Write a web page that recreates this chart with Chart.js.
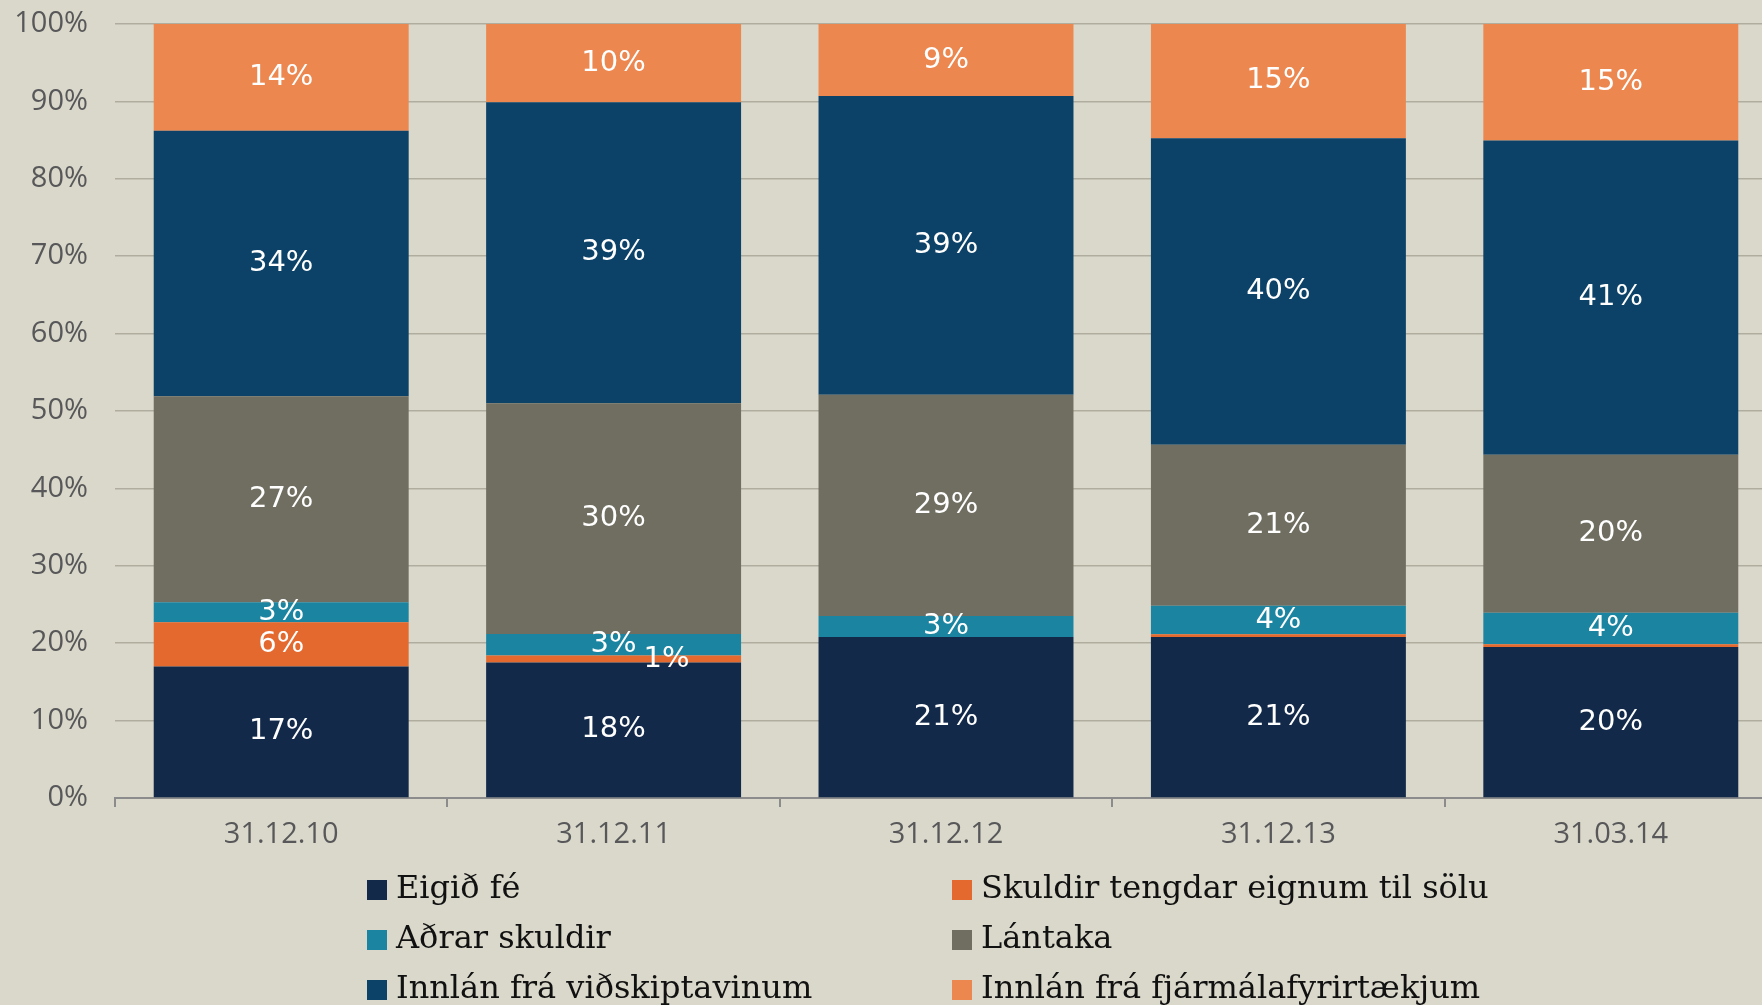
<!DOCTYPE html>
<html>
<head>
<meta charset="utf-8">
<script src="https://cdn.jsdelivr.net/npm/chart.js@4.4.1/dist/chart.umd.min.js"></script>
<style>
  html, body { margin: 0; padding: 0; background: #dad8ca; overflow: hidden; }
  #wrap { width: 1780px; height: 1005px; }
</style>
</head>
<body>
<div id="wrap"><canvas id="chart"></canvas></div>
<script>
// dagsetningar
const categories = ['31.12.10', '31.12.11', '31.12.12', '31.12.13', '31.03.14'];

// hlutfall af heild, %
const eigidFe        = [17.0, 17.5, 20.8, 20.8, 19.5];
const skuldirTengdar = [5.7, 0.9, 0, 0.35, 0.35];
const adrarSkuldir   = [2.6, 2.8, 2.7, 3.7, 4.1];
const lantaka        = [26.6, 29.8, 28.6, 20.8, 20.4];
const innlanVidsk    = [34.3, 38.9, 38.6, 39.6, 40.6];
const innlanFjarm    = [13.8, 10.1, 9.3, 14.8, 15.1];

Chart.defaults.font.family = '"Open Sans", sans-serif';

// gildi inni í súlunum
const valueLabels = {
  id: 'valueLabels',
  afterDatasetsDraw(chart) {
    const ctx = chart.ctx;
    ctx.save();
    ctx.font = '29px "DejaVu Sans"';
    ctx.fillStyle = '#ffffff';
    ctx.textAlign = 'center';
    ctx.textBaseline = 'middle';
    chart.data.datasets.forEach((ds, i) => {
      chart.getDatasetMeta(i).data.forEach((bar, j) => {
        const v = ds.data[j];
        if (v < 0.5) return;
        let x = bar.x;
        const y = (bar.y + bar.base) / 2;
        if (v < 1.5) x += 53; // of þunnt, fært til hliðar
        ctx.fillText(Math.round(v) + '%', x, y);
      });
    });
    ctx.restore();
  }
};

// skýringar í tveimur dálkum
const gridLegend = {
  id: 'gridLegend',
  afterDraw(chart) {
    const ctx = chart.ctx;
    const area = chart.chartArea;
    const cols = [area.left + 252, area.left + 837];
    ctx.save();
    ctx.font = '32px "DejaVu Serif"';
    ctx.textBaseline = 'middle';
    ctx.textAlign = 'left';
    chart.data.datasets.forEach((ds, i) => {
      const x = cols[i % 2];
      const y = area.bottom + 92 + Math.floor(i / 2) * 50;
      ctx.fillStyle = ds.backgroundColor;
      ctx.fillRect(x, y - 10, 20, 20);
      ctx.fillStyle = '#111111';
      ctx.fillText(ds.label, x + 29, y);
    });
    ctx.restore();
  }
};

const ctx = document.getElementById('chart');
new Chart(ctx, {
  type: 'bar',
  data: {
    labels: categories,
    datasets: [
      { label: 'Eigið fé', data: eigidFe, backgroundColor: '#12294a' },
      { label: 'Skuldir tengdar eignum til sölu', data: skuldirTengdar, backgroundColor: '#e4692f' },
      { label: 'Aðrar skuldir', data: adrarSkuldir, backgroundColor: '#1b84a0' },
      { label: 'Lántaka', data: lantaka, backgroundColor: '#706e61' },
      { label: 'Innlán frá viðskiptavinum', data: innlanVidsk, backgroundColor: '#0c4168' },
      { label: 'Innlán frá fjármálafyrirtækjum', data: innlanFjarm, backgroundColor: '#ec874f' }
    ]
  },
  options: {
    responsive: true,
    maintainAspectRatio: false,
    animation: false,
    devicePixelRatio: 1,
    layout: { padding: { top: 24, right: 3, bottom: 147, left: 0 } },
    datasets: {
      bar: { barPercentage: 0.767, categoryPercentage: 1.0, borderWidth: 0 }
    },
    plugins: {
      legend: { display: false },
      tooltip: { enabled: false }
    },
    scales: {
      x: {
        stacked: true,
        grid: { display: true, drawOnChartArea: false, drawTicks: true, tickLength: 9, color: '#8c8c8c', lineWidth: 2, offset: true },
        border: { display: true, color: '#8c8c8c', width: 2 },
        ticks: { color: '#58585a', font: { size: 29 }, padding: 10, maxRotation: 0 },
        afterFit(s) { s.height = 60; }
      },
      y: {
        stacked: true,
        min: 0,
        max: 100,
        ticks: { stepSize: 10, callback: v => v + '%', color: '#58585a', font: { size: 29 }, padding: 0 },
        grid: { color: '#b0ad9f', lineWidth: 1.5, drawTicks: true, tickLength: 27, tickColor: 'rgba(0,0,0,0)' },
        border: { display: false },
        afterFit(s) { s.width = 115; }
      }
    }
  },
  plugins: [valueLabels, gridLegend]
});
</script>
</body>
</html>
